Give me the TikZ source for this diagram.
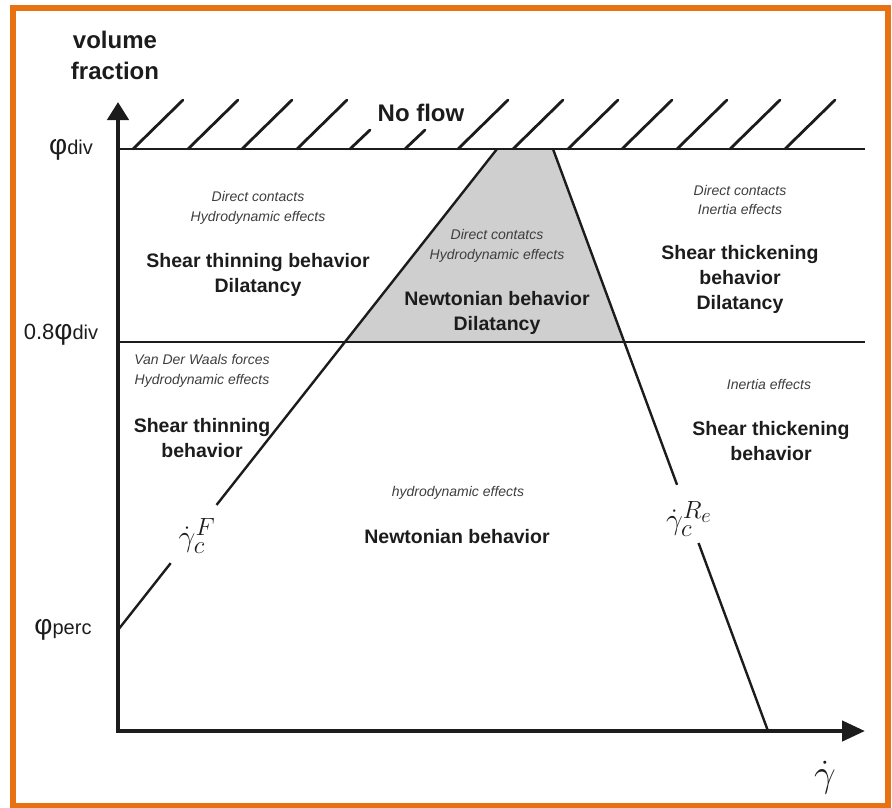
\documentclass[tikz,border=0pt]{standalone}
\usepackage{fontspec}
\setmainfont{Liberation Sans}
\usetikzlibrary{arrows.meta,calc}
\definecolor{frameorange}{RGB}{232,114,18}
\definecolor{zonegray}{RGB}{207,207,207}
\definecolor{ink}{RGB}{28,28,28}
\newcommand{\bigmath}[2]{\scalebox{#1}{\fontsize{24.88}{26}\selectfont$#2$}}

\begin{document}
\begin{tikzpicture}[x=1pt,y=-1pt,
  axisline/.style={line width=4.5pt, draw=ink, line join=miter},
  levelline/.style={line width=2.8pt, draw=ink},
  boundary/.style={line width=2.4pt, draw=ink},
  hatch/.style={line width=2.8pt, draw=ink, line cap=round},
  effect/.style={font=\fontsize{14}{19.5}\selectfont\itshape, text=ink!85, align=center, inner sep=0pt},
  regime/.style={font=\fontsize{19.5}{25}\selectfont\bfseries, text=ink, align=center, inner sep=0pt},
  axislabel/.style={font=\fontsize{24}{31}\selectfont\bfseries, text=ink, align=center, inner sep=0pt},
  ticklabel/.style={text=ink, inner sep=0pt},
  ratelabel/.style={text=ink, inner sep=0pt}
]
\useasboundingbox (0,0) rectangle (892,807);

% frame
\draw[frameorange, line width=6pt] (13,8) rectangle (888,806);

% key points
\coordinate (O) at (118,731);
\coordinate (ytip) at (118,102);
\coordinate (xtip) at (865,731);
\coordinate (divL) at (120,149);
\coordinate (divR) at (865,149);
\coordinate (midL) at (120,342);
\coordinate (midR) at (865,342);
\coordinate (perc) at (118,630);
\coordinate (rezero) at (768,731);
\coordinate (triTL) at (497,149);
\coordinate (triTR) at (553,149);
\coordinate (triBL) at ($(triTL)!0.4012!(perc)$);
\coordinate (triBR) at ($(triTR)!0.3316!(rezero)$);

% shaded Newtonian/dilatant zone
\fill[zonegray] (triTL) -- (triTR) -- (triBR) -- (triBL) -- cycle;

% limit lines
\draw[levelline] (divL) -- (divR);
\draw[line width=2.2pt, draw=ink] (midL) -- (midR);

% hatching above the no-flow limit
\foreach \hx in {133,188,242,297,458,513,568,622,677,730,785}
  \draw[hatch] (\hx,149) -- ++(50,-49);
\foreach \hx in {350,405}
  \draw[hatch] (\hx,149) -- ++(20,-19);
\node[axislabel] (noflow) at (421,113) {No flow};

% critical shear-rate boundaries
\coordinate (fgapA) at ($(triTL)!0.740!(perc)$);
\coordinate (fgapB) at ($(triTL)!0.861!(perc)$);
\coordinate (rgapA) at ($(triTR)!0.577!(rezero)$);
\coordinate (rgapB) at ($(triTR)!0.677!(rezero)$);
\draw[boundary] (triTL) -- (fgapA);
\draw[boundary] (fgapB) -- (perc);
\draw[boundary] (triTR) -- (rgapA);
\draw[boundary] (rgapB) -- (rezero);
\node[ratelabel] (gF) at (197,536) {\bigmath{1.2}{\dot{\gamma}_c^{F}}};
\node[ratelabel] (gRe) at (689,519) {\bigmath{1.2}{\dot{\gamma}_c^{R_e}}};

% axes
\draw[axisline, {Triangle[length=18pt,width=21pt]}-{Triangle[length=23pt,width=20pt]}] (ytip) |- (xtip);
\node[axislabel] (ylab) at (115,55) {volume\\fraction};
\node[ratelabel] (xlab) at (825,778) {\bigmath{1.55}{\dot{\gamma}}};

% volume-fraction ticks
\node[ticklabel] (tdiv) at (71,150) {{\fontsize{28}{28}\selectfont φ}{\fontsize{20}{20}\selectfont div}};
\node[ticklabel] (tmid) at (61,335) {{\fontsize{22}{22}\selectfont 0.8}{\fontsize{28}{28}\selectfont φ}{\fontsize{20}{20}\selectfont div}};
\node[ticklabel] (tperc) at (63,630) {{\fontsize{28}{28}\selectfont φ}{\fontsize{20}{20}\selectfont perc}};

% regime descriptions
\node[effect] (tlfx) at (258,208) {Direct contacts\\Hydrodynamic effects};
\node[regime] (tlbh) at (258,275) {Shear thinning behavior\\Dilatancy};
\node[effect] (trifx) at (497,246) {Direct contatcs\\Hydrodynamic effects};
\node[regime] (tribh) at (497,313) {Newtonian behavior\\Dilatancy};
\node[effect] (trfx) at (740,200) {Direct contacts\\Inertia effects};
\node[regime] (trbh) at (740,279) {Shear thickening\\behavior\\Dilatancy};
\node[effect] (mlfx) at (202,371) {Van Der Waals forces\\Hydrodynamic effects};
\node[regime] (mlbh) at (202,438) {Shear thinning\\behavior};
\node[effect] (mrfx) at (769,384) {Inertia effects};
\node[regime] (mrbh) at (771,441) {Shear thickening\\behavior};
\node[effect] (cfx) at (458,493) {hydrodynamic effects};
\node[regime] (cbh) at (457,537) {Newtonian behavior};
\end{tikzpicture}
\end{document}
